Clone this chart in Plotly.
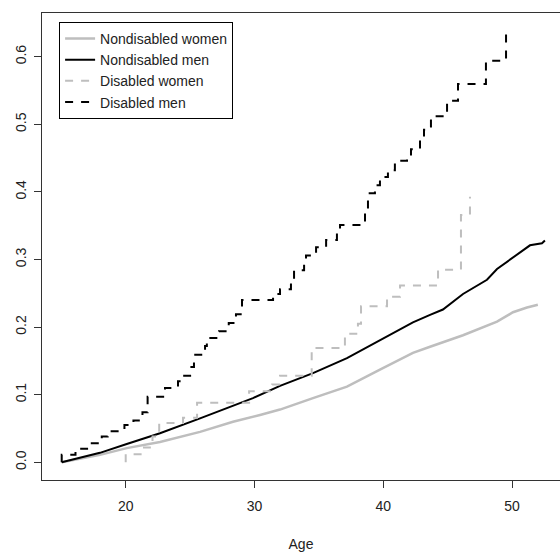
import plotly.graph_objects as go

# ---- data ----
# Nondisabled women (smooth cumulative curve)
age_nw = [15.03, 18.0, 20.08, 22.66, 25.77, 28.33, 30.43, 31.98, 34.54, 37.18,
          39.74, 42.3, 43.63, 46.19, 48.83, 50.07, 51.16, 52.0]
val_nw = [0.0, 0.011, 0.021, 0.030, 0.045, 0.060, 0.070, 0.078, 0.095, 0.112,
          0.137, 0.162, 0.171, 0.188, 0.208, 0.222, 0.229, 0.233]

# Nondisabled men
age_nm = [15.03, 18.0, 20.08, 22.66, 25.77, 27.87, 29.88, 31.98, 34.54, 37.18,
          39.74, 42.3, 43.63, 44.63, 46.19, 48.05, 48.83, 50.61, 51.39, 52.32, 52.55]
val_nm = [0.0, 0.014, 0.027, 0.043, 0.065, 0.080, 0.095, 0.113, 0.132, 0.154,
          0.180, 0.207, 0.218, 0.226, 0.249, 0.270, 0.286, 0.310, 0.321, 0.324, 0.328]

# Disabled women (step function: age of step, level after step)
age_dw = [20.0, 20.0, 21.42, 22.08, 22.6, 24.45, 25.54, 29.58, 31.37, 31.98,
          34.44, 37.02, 38.03, 38.27, 40.29, 41.3, 44.25, 46.03, 46.73]
val_dw = [0.0, 0.012, 0.022, 0.038, 0.058, 0.066, 0.088, 0.105, 0.115, 0.128,
          0.169, 0.190, 0.205, 0.231, 0.245, 0.2615, 0.285, 0.366, 0.393]

# Disabled men (step function)
age_dm = [15.03, 15.03, 16.1, 17.0, 18.14, 18.6, 19.9, 20.6, 21.3, 21.7,
          23.05, 24.06, 24.45, 25.0, 25.3, 26.16, 26.3, 27.24, 28.0, 28.56,
          29.03, 31.44, 31.98, 32.83, 33.07, 33.85, 34.0, 34.78, 35.56, 36.4,
          36.64, 38.58, 38.81, 39.35, 39.74, 40.36, 40.9, 41.84, 42.15, 42.85,
          43.16, 43.7, 44.95, 45.8, 47.97, 49.53]
val_dm = [0.0, 0.011, 0.020, 0.028, 0.038, 0.046, 0.055, 0.062, 0.074, 0.097,
          0.110, 0.120, 0.128, 0.141, 0.159, 0.172, 0.184, 0.194, 0.206, 0.219,
          0.240, 0.249, 0.256, 0.267, 0.284, 0.295, 0.306, 0.318, 0.329, 0.339,
          0.351, 0.370, 0.398, 0.410, 0.422, 0.432, 0.446, 0.452, 0.463, 0.478,
          0.492, 0.512, 0.535, 0.5595, 0.594, 0.639]

x_ticks = [20, 30, 40, 50]
y_ticks = [0.0, 0.1, 0.2, 0.3, 0.4, 0.5, 0.6]
y_ticktext = ["0.0", "0.1", "0.2", "0.3", "0.4", "0.5", "0.6"]

GRAY = "#BEBEBE"
FONT = "Liberation Sans, Arial, sans-serif"

fig = go.Figure()
fig.add_trace(go.Scatter(x=age_nw, y=val_nw, mode="lines", name="Nondisabled women",
                         line=dict(color=GRAY, width=2.5)))
fig.add_trace(go.Scatter(x=age_nm, y=val_nm, mode="lines", name="Nondisabled men",
                         line=dict(color="black", width=2)))
fig.add_trace(go.Scatter(x=age_dw, y=val_dw, mode="lines", name="Disabled women",
                         line=dict(color=GRAY, width=2, dash="8px,8px", shape="hv")))
fig.add_trace(go.Scatter(x=age_dm, y=val_dm, mode="lines", name="Disabled men",
                         line=dict(color="black", width=2, dash="8px,8px", shape="hv")))

fig.update_layout(
    width=560, height=552,
    margin=dict(l=42, r=0, t=13, b=72, autoexpand=False),
    paper_bgcolor="white", plot_bgcolor="white",
    font=dict(family=FONT, size=14, color="#222"),
    showlegend=True,
    legend=dict(x=0.033, y=0.981, xanchor="left", yanchor="top",
                bordercolor="black", borderwidth=1, bgcolor="white",
                font=dict(family=FONT, size=14, color="#222"),
                tracegroupgap=0, itemwidth=30),
    xaxis=dict(range=[13.5, 53.72], tickvals=x_ticks, ticks="outside", ticklen=7,
               tickcolor="#333", showline=True, linecolor="#333", linewidth=1,
               mirror=True, showgrid=False, zeroline=False, ticklabelstandoff=6,
               title=dict(text="Age", standoff=27, font=dict(size=14))),
    yaxis=dict(range=[-0.0262, 0.6647], tickvals=y_ticks, ticktext=y_ticktext,
               tickangle=-90, ticks="outside", ticklen=7, tickcolor="#333",
               showline=True, linecolor="#333", linewidth=1, mirror=False,
               showgrid=False, zeroline=False, ticklabelstandoff=2),
)

fig.write_html("out.html",
               config={"displayModeBar": False},
               post_script="document.body.style.margin='0';document.body.style.overflow='hidden';")
